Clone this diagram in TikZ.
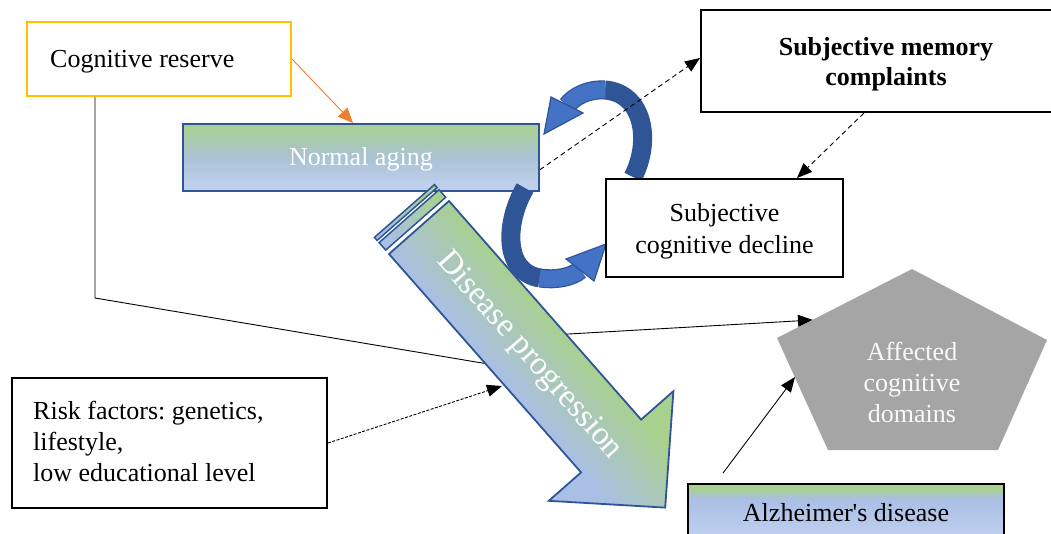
\documentclass[tikz,border=0pt]{standalone}
\usepackage{fontspec}
\setmainfont{Liberation Serif}
\usetikzlibrary{arrows.meta,calc}
\pgfdeclarelayer{background}
\pgfsetlayers{background,main}
\definecolor{agreen}{HTML}{A9D18E}
\definecolor{ablue}{HTML}{AABFE6}
\definecolor{lblue}{HTML}{C2D2F0}
\definecolor{dblue}{HTML}{2F5597}
\definecolor{mblue}{HTML}{4472C4}
\definecolor{pgray}{HTML}{A5A5A5}
\definecolor{aorange}{HTML}{ED7D31}
\definecolor{ayellow}{HTML}{FFC000}
\pgfdeclareverticalshading{adshade}{100bp}{color(0bp)=(lblue); color(25bp)=(lblue); color(62bp)=(ablue); color(71bp)=(agreen); color(100bp)=(agreen)}
\pgfdeclareverticalshading{dpsh}{100bp}{color(0bp)=(ablue); color(43bp)=(ablue); color(57bp)=(agreen); color(100bp)=(agreen)}
\begin{document}
\frenchspacing
\begin{tikzpicture}[x=1pt,y=-1pt,
  txt/.style={font=\fontsize{26}{31}\selectfont, inner sep=0pt},
  boxk/.style={draw=black, line width=2pt, fill=white, inner sep=0pt, anchor=north west},
  arr/.style={-{Triangle[length=15pt,width=12pt]}, line width=0.9pt, black},
  darr/.style={arr, dash pattern=on 5pt off 3.5pt},
  ddarr/.style={arr, dash pattern=on 3pt off 1.5pt},
  oarr/.style={-{Triangle[length=15pt,width=13pt]}, line width=0.9pt, aorange},
  cout/.style={line width=19pt, line cap=butt, dblue},
  cin/.style={line width=16.5pt, line cap=butt, mblue},
  chead/.style={fill=mblue, draw=dblue, line width=1.2pt, line join=miter},
  dpshade/.style={draw=dblue, line width=1.8pt, shade, shading=dpsh, shading angle=-49},
  stshade/.style={draw=dblue, line width=1.5pt, top color=agreen, bottom color=ablue, shading angle=-49},
]
\useasboundingbox (0,0) rectangle (1051,533);

% boxes
\node[boxk, draw=ayellow, minimum width=264pt, minimum height=74pt] (CR) at (26,21) {};
\node[txt, anchor=west] (CRt) at ($(CR.west)+(24,3)$) {Cognitive reserve};

\node[anchor=north west, draw=dblue, line width=1.8pt, top color=agreen, bottom color=lblue, middle color=ablue!80!agreen, minimum width=356pt, minimum height=67pt, inner sep=0pt] (NA) at (182,123) {};
\node[txt, text=white] (NAt) at ($(NA.center)+(0,2)$) {Normal aging};

% disease progression arrow
\path[stshade] (374.4,237.4) -- (434.5,184.6) -- (437.1,187.6) -- (377.1,240.4) -- cycle;
\path[stshade] (379.1,242.6) -- (439.1,189.8) -- (445.7,197.3) -- (385.7,250.1) -- cycle;
\path[dpshade] (389,254) -- (581.1,472.4) -- (548.8,500.8) -- (665.2,507.6) -- (673.4,391.2) -- (641.1,419.6) -- (449,201) -- cycle;
\node[rotate=-48.7, text=white, font=\fontsize{33}{38}\selectfont] (DP) at (529,356) {Disease progression};

% curved arrows
\draw[cout] (633,177) .. controls (652,140) and (643,93) .. (605,90);
\draw[cout] (605,90) .. controls (588,89) and (574.4,96) .. (567,105.5);
\draw[cin] (605.5,90.05) .. controls (588,89) and (574.4,96) .. (567,105.5);
\draw[chead] (551,97) -- (583,113) -- (544,134) -- cycle;
\draw[cout] (525,188) .. controls (505,222) and (503,272) .. (540,278);
\draw[cout] (540,278) .. controls (555,280.5) and (573,277) .. (580,270);
\draw[cin] (539.5,277.9) .. controls (555,280.5) and (573,277) .. (580,270);
\draw[chead] (566,259) -- (594,281) -- (606,244) -- cycle;

\node[boxk, minimum width=370pt, minimum height=102pt] (SMC) at (700,9) {};
\node[txt, align=center, font={\fontsize{26}{30}\selectfont\bfseries}] (SMCt) at ($(SMC.center)+(0,3)$) {Subjective memory\\complaints};
\node[boxk, minimum width=237pt, minimum height=98pt] (SCD) at (605,178) {};
\node[txt, align=center, font={\fontsize{26}{32}\selectfont}] (SCDt) at ($(SCD.center)+(0,3)$) {Subjective\\cognitive decline};
\node[boxk, minimum width=315pt, minimum height=130pt] (RF) at (11,377) {};
\node[txt, align=left, anchor=west] (RFt) at ($(RF.west)+(22,-2)$) {Risk factors: genetics,\\lifestyle,\\low educational level};
\node[boxk, shade, shading=adshade, minimum width=316pt, minimum height=57pt] (AD) at (687,483) {};
\node[txt] (ADt) at (AD.center) {Alzheimer\textquotesingle s disease};

% pentagon
\fill[pgray] (912,269) -- (1047,340) -- (998,450) -- (828,450) -- (777,338) -- cycle;
\node[txt, text=white!95!gray, align=center] (ACD) at (912,382) {Affected\\cognitive\\domains};
\coordinate (acdL) at (813,320);
\coordinate (acdB) at (795,377);
\coordinate (dpL) at (502,386);

% connectors
\begin{pgfonlayer}{background}
\draw[arr] ($(CR.south west)+(69,0)$) -- (95,298) -- (500,366) -- (560,334.5) -- (acdL);
\end{pgfonlayer}
\draw[oarr] (CR.east) -- ($(NA.north west)+(171,0)$);
\draw[darr] ($(NA.south east)+(0,-22)$) -- ($(SMC.west)+(0,-3)$);
\draw[darr] ($(SMC.south)+(-22,0)$) -- ($(SCD.north east)+(-47,0)$);
\draw[ddarr] (RF.east) -- (dpL);
\draw[arr] ($(AD.north west)+(36,-10)$) -- (acdB);
\end{tikzpicture}
\end{document}
